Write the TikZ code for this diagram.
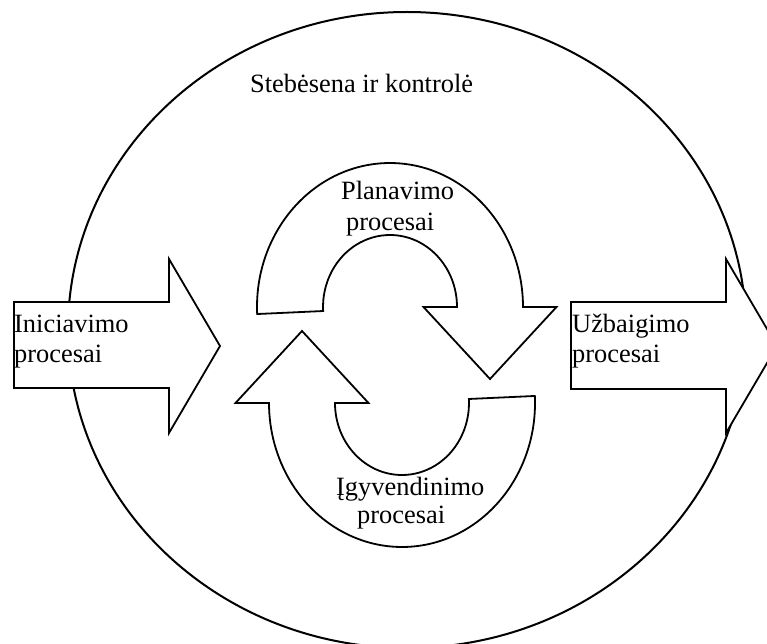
\documentclass[tikz,border=0pt]{standalone}
\usepackage{fontspec}
\setmainfont{Liberation Serif}
\begin{document}
\begin{tikzpicture}[x=1pt,y=-1pt,
  outline/.style={draw=black,line width=1.8pt,fill=white,line join=miter},
  boundary/.style={draw=black,line width=2pt},
  caption/.style={inner sep=0pt,anchor=base west,font=\fontsize{26.4}{30}\selectfont},
  bend/.pic={
    % curved arrow: outer arc over the top, head pointing down on the right
    \path[outline] (177.2:133 and 144)
      arc [start angle=177.2, end angle=360, x radius=133, y radius=144]
      -- (166.5,0) -- (100,72) -- (33.5,0) -- (67,0)
      arc [start angle=360, end angle=176.8, x radius=67, y radius=72]
      -- cycle;
  }]
\useasboundingbox (0,0) rectangle (767,644);
\clip (0,0) rectangle (767,644);

% monitoring and control
\draw[boundary] (407,330) ellipse [x radius=339, y radius=318];
\node[caption] (monitor) at (250,93) {Stebėsena ir kontrolė};

% initiating
\draw[outline] (14,302) -- (169,302) -- (169,259) -- (220,346) -- (169,433)
  -- (169,388) -- (14,388) -- cycle;
\node[caption] (init1) at (14,332) {Iniciavimo};
\node[caption] (init2) at (14,362) {procesai};

% closing
\draw[outline] (571,302) -- (726,302) -- (726,259) -- (777,346) -- (726,433)
  -- (726,389) -- (571,389) -- cycle;
\node[caption] (close1) at (572,332) {Užbaigimo};
\node[caption] (close2) at (572,362) {procesai};

% planning and executing cycle
\pic at (390,307) {bend};
\pic[rotate=180] at (402,403) {bend};

\node[caption] (plan1) at (341,200) {Planavimo};
\node[caption] (plan2) at (346,230) {procesai};
\node[caption] (exec1) at (336,495) {Įgyvendinimo};
\node[caption] (exec2) at (357,523) {procesai};
\end{tikzpicture}
\end{document}
